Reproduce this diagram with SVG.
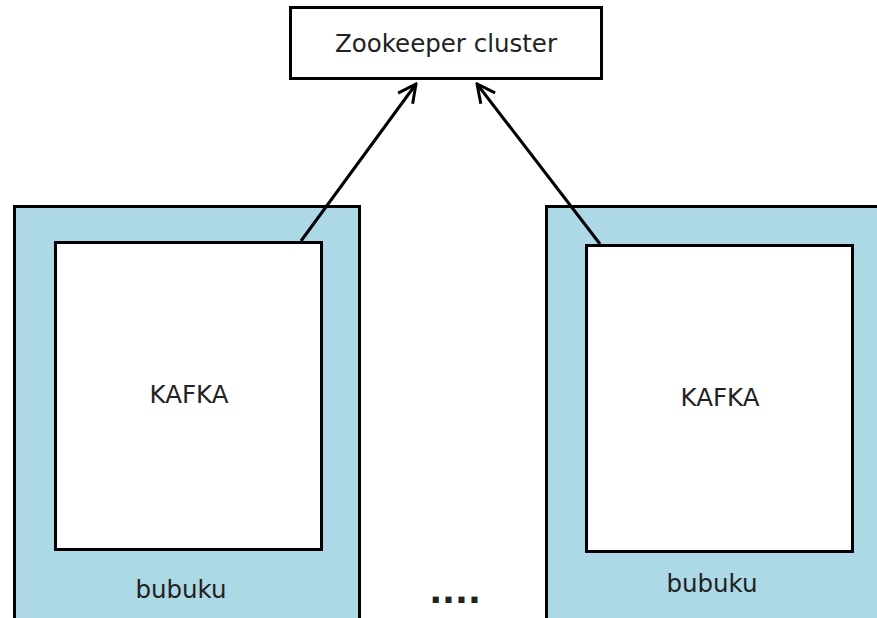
<svg xmlns="http://www.w3.org/2000/svg" width="877" height="618" viewBox="0 0 877 618">
<style>
.box{stroke:#000;stroke-width:3}
.outer{fill:#add8e6}
.inner{fill:#fff}
text{font-family:"DejaVu Sans",sans-serif;fill:#222;text-anchor:middle;font-size:24.5px}
.conn{stroke:#000;stroke-width:3;fill:none}
</style>
<defs>
<marker id="arr" viewBox="0 0 22 22" refX="20" refY="11" markerWidth="22" markerHeight="22" markerUnits="userSpaceOnUse" orient="auto">
<path d="M2,2 L20,11 L2,20" fill="none" stroke="#000" stroke-width="3"/>
</marker>
</defs>
<rect width="877" height="618" fill="#fff"/>
<g id="zookeeper">
<rect class="box" x="290.500" y="7.500" width="311" height="71" fill="#fff"/>
<text x="446" y="52">Zookeeper cluster</text>
</g>
<g id="host-left">
<rect class="box outer" x="14.500" y="206.500" width="345" height="420"/>
<text x="181" y="598">bubuku</text>
</g>
<g id="kafka-left">
<rect class="box inner" x="55.500" y="242.500" width="266" height="307"/>
<text x="189" y="403">KAFKA</text>
</g>
<g id="host-right">
<rect class="box outer" x="546.500" y="206.500" width="345" height="420"/>
<text x="712" y="592">bubuku</text>
</g>
<g id="kafka-right">
<rect class="box inner" x="586.500" y="245.500" width="266" height="306"/>
<text x="720" y="406">KAFKA</text>
</g>
<text x="455" y="603" style="font-size:34px;font-weight:bold">....</text>
<g id="connectors">
<line class="conn" x1="301" y1="241" x2="416" y2="84" marker-end="url(#arr)"/>
<line class="conn" x1="600" y1="244" x2="477" y2="84" marker-end="url(#arr)"/>
</g>
</svg>
